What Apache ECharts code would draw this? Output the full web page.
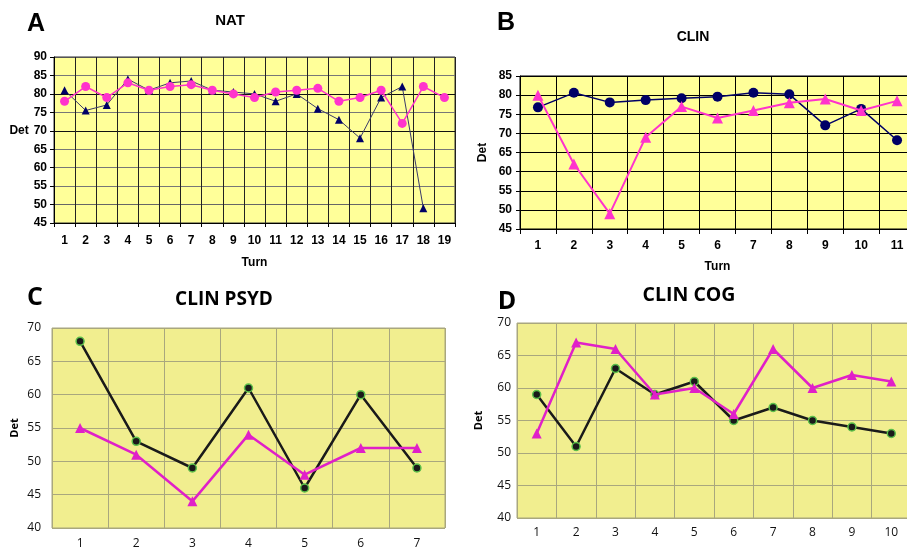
<!DOCTYPE html>
<html>
<head>
<meta charset="utf-8">
<script src="https://cdn.jsdelivr.net/npm/echarts@6/dist/echarts.min.js"></script>
<style>html,body{margin:0;padding:0;background:#fff;}#c{width:907px;height:549px;}</style>
</head>
<body>
<div id="c"></div>
<script>
// Panel A: NAT
const natTurns = ['1','2','3','4','5','6','7','8','9','10','11','12','13','14','15','16','17','18','19'];
const natNavy = [81, 75.5, 77, 84, 81, 83, 83.5, 81, 80.5, 80, 78, 80, 76, 73, 68, 79, 82, 49];
const natPink = [78, 82, 79, 83, 81, 82, 82.5, 81, 80, 79, 80.5, 81, 81.5, 78, 79, 81, 72, 82, 79];
// Panel B: CLIN
const clinTurns = ['1','2','3','4','5','6','7','8','9','10','11'];
const clinNavy = [76.8, 80.6, 78.1, 78.7, 79.2, 79.6, 80.6, 80.2, 72.1, 76.4, 68.2];
const clinPink = [80, 62, 49, 69, 77, 74, 76, 78, 79, 76, 78.5];
// Panel C: CLIN PSYD
const psydTurns = ['1','2','3','4','5','6','7'];
const psydBlack = [68, 53, 49, 61, 46, 60, 49];
const psydPink = [55, 51, 44, 54, 48, 52, 52];
// Panel D: CLIN COG
const cogTurns = ['1','2','3','4','5','6','7','8','9','10'];
const cogBlack = [59, 51, 63, 59, 61, 55, 57, 55, 54, 53];
const cogPink = [53, 67, 66, 59, 60, 56, 66, 60, 62, 61];

const arial = 'Liberation Sans, Arial, sans-serif';
const cal = 'Open Sans, Noto Sans, sans-serif';

function ttl(text, x, y, size, font, weight) {
  return {text: text, left: x, top: y, textAlign: 'center', textVerticalAlign: 'middle', padding: 0,
    textStyle: {fontFamily: font, fontSize: size, fontWeight: weight || 'bold', color: '#000'}};
}

const chart = echarts.init(document.getElementById('c'));
chart.setOption({
  animation: false,
  backgroundColor: '#fff',
  title: [
    ttl('A', 36, 24, 25, arial), ttl('NAT', 230, 21, 15, arial),
    ttl('B', 506, 23, 25, arial), ttl('CLIN', 693, 37, 14, arial),
    ttl('C', 35, 298, 25, cal), ttl('CLIN PSYD', 224, 300, 19, cal),
    ttl('D', 507, 302, 25, cal), ttl('CLIN COG', 689, 295, 19.5, cal)
  ],
  grid: [
    {left: 54, top: 57, width: 401, height: 166, outerBoundsMode: 'none', show: true, backgroundColor: '#FFFF99', borderColor: '#333', borderWidth: 1},
    {left: 520, top: 76, width: 395, height: 153, outerBoundsMode: 'none', show: true, backgroundColor: '#FFFF99', borderColor: '#000', borderWidth: 1},
    {left: 52, top: 328, width: 393, height: 200, outerBoundsMode: 'none', show: true, backgroundColor: '#F1EE8F', borderColor: '#A9A77E', borderWidth: 1},
    {left: 517, top: 323, width: 394, height: 195, outerBoundsMode: 'none', show: true, backgroundColor: '#F1EE8F', borderColor: '#A9A77E', borderWidth: 1}
  ],
  xAxis: [
    {type: 'category', gridIndex: 0, data: natTurns, boundaryGap: true,
      name: 'Turn', nameLocation: 'middle', nameGap: 34,
      nameTextStyle: {fontFamily: arial, fontSize: 12, fontWeight: 'bold', color: '#000'},
      axisLine: {lineStyle: {color: '#000', width: 1}},
      axisTick: {show: true, length: 4, lineStyle: {color: '#000'}, interval: 0},
      axisLabel: {interval: 0, margin: 12, fontFamily: arial, fontSize: 12, fontWeight: 'bold', color: '#000'},
      splitLine: {show: true, interval: 0, lineStyle: {color: '#222', width: 1}}},
    {type: 'category', gridIndex: 1, data: clinTurns, boundaryGap: true,
      name: 'Turn', nameLocation: 'middle', nameGap: 32,
      nameTextStyle: {fontFamily: arial, fontSize: 12, fontWeight: 'bold', color: '#000'},
      axisLine: {lineStyle: {color: '#000', width: 1}},
      axisTick: {show: true, length: 5, lineStyle: {color: '#000'}, interval: 0},
      axisLabel: {interval: 0, margin: 11, fontFamily: arial, fontSize: 12, fontWeight: 'bold', color: '#000'},
      splitLine: {show: true, interval: 0, lineStyle: {color: '#000', width: 1}}},
    {type: 'category', gridIndex: 2, data: psydTurns, boundaryGap: true,
      axisLine: {show: false}, axisTick: {show: false},
      axisLabel: {interval: 0, margin: 10, fontFamily: cal, fontSize: 12, color: '#111'},
      splitLine: {show: true, interval: 0, lineStyle: {color: '#A9A77E', width: 1}}},
    {type: 'category', gridIndex: 3, data: cogTurns, boundaryGap: true,
      axisLine: {show: false}, axisTick: {show: false},
      axisLabel: {interval: 0, margin: 9, fontFamily: cal, fontSize: 12, color: '#111'},
      splitLine: {show: true, interval: 0, lineStyle: {color: '#A9A77E', width: 1}}}
  ],
  yAxis: [
    {type: 'value', gridIndex: 0, min: 45, max: 90, interval: 5,
      name: 'Det', nameLocation: 'middle', nameRotate: 0, nameGap: 22,
      nameTextStyle: {fontFamily: arial, fontSize: 12, fontWeight: 'bold', color: '#000', verticalAlign: 'bottom', lineHeight: 18},
      axisLine: {show: true, lineStyle: {color: '#000'}},
      axisTick: {show: true, length: 4, lineStyle: {color: '#000'}},
      axisLabel: {margin: 7, fontFamily: arial, fontSize: 12, fontWeight: 'bold', color: '#000'},
      splitLine: {show: true, lineStyle: {width: 1, color: ['#666', '#666', '#777', '#777', '#777', '#111', '#777', '#111', '#777', '#555']}}},
    {type: 'value', gridIndex: 1, min: 45, max: 85, interval: 5,
      name: 'Det', nameLocation: 'middle', nameGap: 31,
      nameTextStyle: {fontFamily: arial, fontSize: 12, fontWeight: 'bold', color: '#000'},
      axisLine: {show: true, lineStyle: {color: '#000'}},
      axisTick: {show: true, length: 4, lineStyle: {color: '#000'}},
      axisLabel: {margin: 8, fontFamily: arial, fontSize: 12, fontWeight: 'bold', color: '#000'},
      splitLine: {show: true, lineStyle: {color: '#000', width: 1}}},
    {type: 'value', gridIndex: 2, min: 40, max: 70, interval: 5,
      name: 'Det', nameLocation: 'middle', nameGap: 32,
      nameTextStyle: {fontFamily: cal, fontSize: 11, fontWeight: 'bold', color: '#000'},
      axisLine: {show: false}, axisTick: {show: false},
      axisLabel: {margin: 11, fontFamily: cal, fontSize: 12, color: '#111'},
      splitLine: {show: true, lineStyle: {color: '#A9A77E', width: 1}}},
    {type: 'value', gridIndex: 3, min: 40, max: 70, interval: 5,
      name: 'Det', nameLocation: 'middle', nameGap: 33,
      nameTextStyle: {fontFamily: cal, fontSize: 11, fontWeight: 'bold', color: '#000'},
      axisLine: {show: false}, axisTick: {show: false},
      axisLabel: {margin: 6, fontFamily: cal, fontSize: 12, color: '#111'},
      splitLine: {show: true, lineStyle: {color: '#A9A77E', width: 1}}}
  ],
  series: [
    {type: 'line', xAxisIndex: 0, yAxisIndex: 0, data: natNavy, symbol: 'triangle', symbolSize: 8,
      lineStyle: {color: '#3A3A6A', width: 1}, itemStyle: {color: '#000066'}, z: 3},
    {type: 'line', xAxisIndex: 0, yAxisIndex: 0, data: natPink, symbol: 'circle', symbolSize: 9,
      lineStyle: {color: '#FF33CC', width: 1.5}, itemStyle: {color: '#FF33CC'}, z: 4},
    {type: 'line', xAxisIndex: 1, yAxisIndex: 1, data: clinNavy, symbol: 'circle', symbolSize: 10,
      lineStyle: {color: '#000066', width: 1.5}, itemStyle: {color: '#000066'}, z: 3},
    {type: 'line', xAxisIndex: 1, yAxisIndex: 1, data: clinPink, symbol: 'triangle', symbolSize: 11,
      lineStyle: {color: '#FF33CC', width: 2}, itemStyle: {color: '#FF33CC'}, z: 4},
    {type: 'line', xAxisIndex: 2, yAxisIndex: 2, data: psydBlack, symbol: 'circle', symbolSize: 8,
      lineStyle: {color: '#1A1A1A', width: 2.5}, itemStyle: {color: '#1A1A1A', borderColor: '#5CC04A', borderWidth: 1.5}, z: 3},
    {type: 'line', xAxisIndex: 2, yAxisIndex: 2, data: psydPink, symbol: 'triangle', symbolSize: 10,
      lineStyle: {color: '#E020C8', width: 2.5}, itemStyle: {color: '#E020C8'}, z: 4},
    {type: 'line', xAxisIndex: 3, yAxisIndex: 3, data: cogBlack, symbol: 'circle', symbolSize: 8,
      lineStyle: {color: '#1A1A1A', width: 2.5}, itemStyle: {color: '#1A1A1A', borderColor: '#5CC04A', borderWidth: 1.5}, z: 3},
    {type: 'line', xAxisIndex: 3, yAxisIndex: 3, data: cogPink, symbol: 'triangle', symbolSize: 10,
      lineStyle: {color: '#E020C8', width: 2.5}, itemStyle: {color: '#E020C8'}, z: 4}
  ]
});
</script>
</body>
</html>
